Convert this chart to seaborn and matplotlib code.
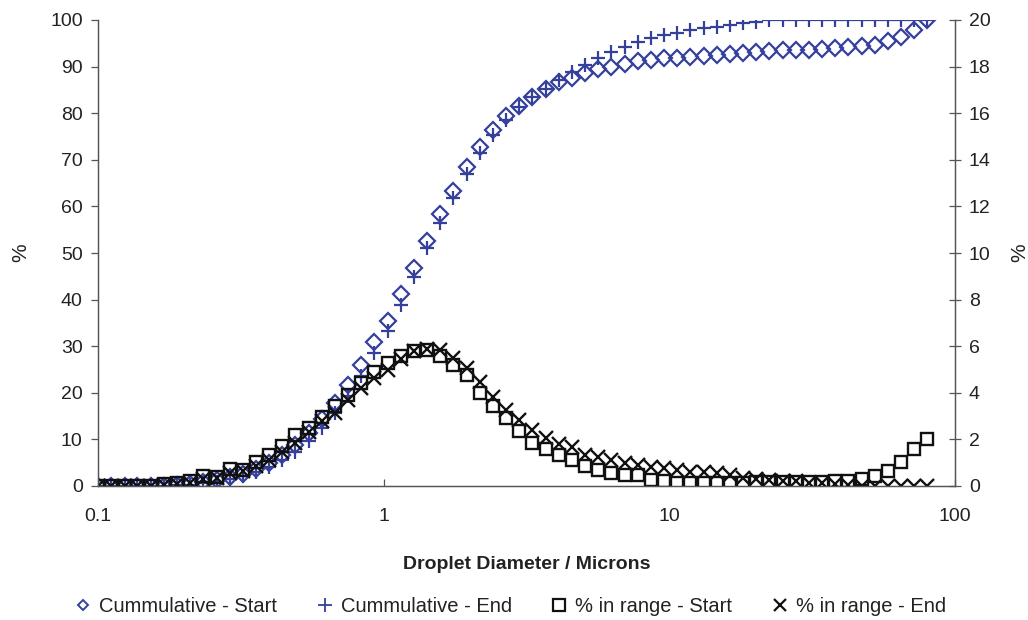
import matplotlib
matplotlib.use("Agg")
import matplotlib.pyplot as plt
import seaborn as sns
import pandas as pd
from matplotlib.lines import Line2D

# ---- data ----
size_um = [0.100, 0.111, 0.124, 0.137, 0.153, 0.170, 0.189, 0.210, 0.234, 0.260,
           0.289, 0.321, 0.357, 0.397, 0.442, 0.491, 0.546, 0.607, 0.675, 0.751,
           0.835, 0.928, 1.032, 1.148, 1.276, 1.419, 1.578, 1.755, 1.951, 2.170,
           2.412, 2.682, 2.983, 3.317, 3.688, 4.101, 4.560, 5.070, 5.638, 6.269,
           6.971, 7.751, 8.619, 9.584, 10.66, 11.85, 13.18, 14.65, 16.29, 18.12,
           20.14, 22.40, 24.91, 27.69, 30.80, 34.24, 38.08, 42.34, 47.08, 52.35,
           58.21, 64.73, 71.98, 80.04]

cum_start = [0, 0, 0, 0, 0, 0.1, 0.2, 0.4, 0.8, 1.2,
             1.9, 2.6, 3.6, 5.0, 6.7, 8.9, 11.4, 14.3, 17.8, 21.7,
             26.0, 30.8, 35.5, 41.1, 46.7, 52.6, 58.3, 63.3, 68.5, 72.7,
             76.3, 79.3, 81.5, 83.4, 85.1, 86.6, 87.6, 88.6, 89.4, 90.0,
             90.6, 91.1, 91.5, 91.8, 91.9, 92.1, 92.3, 92.5, 92.7, 92.9,
             93.1, 93.3, 93.5, 93.6, 93.6, 93.7, 93.9, 94.1, 94.4, 94.7,
             95.4, 96.4, 97.8, 100.0]

cum_end = [0, 0, 0, 0, 0, 0, 0.15, 0.3, 0.6, 0.95,
           1.5, 2.15, 3.0, 4.1, 5.6, 7.4, 9.7, 12.5, 15.6, 19.4,
           23.6, 28.5, 33.3, 38.8, 44.9, 51.0, 56.5, 61.7, 67.0, 71.4,
           75.3, 78.5, 81.3, 83.4, 85.2, 87.1, 88.9, 90.3, 91.9, 93.1,
           94.3, 95.3, 96.1, 96.8, 97.3, 97.8, 98.2, 98.6, 98.9, 99.3,
           99.6, 100, 100, 100, 100, 100, 100, 100, 100, 100,
           100, 100, 100, 100]

range_start = [0, 0, 0, 0, 0, 0.08, 0.15, 0.2, 0.42, 0.38,
               0.72, 0.68, 1.02, 1.32, 1.7, 2.2, 2.5, 2.95, 3.45, 3.9,
               4.4, 4.9, 5.3, 5.6, 5.8, 5.85, 5.6, 5.2, 4.75, 3.98,
               3.45, 2.9, 2.38, 1.85, 1.58, 1.33, 1.12, 0.85, 0.7, 0.56,
               0.47, 0.47, 0.26, 0.2, 0.15, 0.12, 0.14, 0.12, 0.15, 0.14,
               0.17, 0.16, 0.18, 0.17, 0.18, 0.17, 0.2, 0.22, 0.3, 0.45,
               0.65, 1.05, 1.6, 2.0]

range_end = [0, 0, 0, 0, 0, 0.05, 0.1, 0.15, 0.3, 0.35,
             0.55, 0.65, 0.85, 1.1, 1.45, 1.85, 2.3, 2.8, 3.15, 3.7,
             4.2, 4.65, 5.0, 5.45, 5.8, 5.9, 5.82, 5.5, 5.05, 4.48,
             3.8, 3.28, 2.85, 2.42, 2.05, 1.8, 1.68, 1.35, 1.26, 1.12,
             1.0, 0.88, 0.83, 0.78, 0.7, 0.62, 0.6, 0.55, 0.47, 0.35,
             0.3, 0.25, 0.2, 0.2, 0.15, 0.15, 0.1, 0.05, 0, 0,
             0, 0, 0, 0]

labels = ["Cummulative - Start", "Cummulative - End",
          "% in range - Start", "% in range - End"]

df = pd.DataFrame({"size": size_um, "cs": cum_start, "ce": cum_end,
                   "rs": range_start, "re": range_end})

sns.set_style("white")
plt.rcParams["font.family"] = ["Liberation Sans", "DejaVu Sans"]

BLUE = "#35409C"
DARK = "#111111"
fig = plt.figure(figsize=(10.28, 6.20), dpi=100)
ax = fig.add_axes([98 / 1028, 1 - 486 / 620, (955 - 98) / 1028, (486 - 20) / 620])
ax2 = ax.twinx()

sns.lineplot(data=df, x="size", y="cs", ax=ax, linestyle="", marker="D",
             markersize=8.2, markerfacecolor="none", markeredgecolor=BLUE,
             markeredgewidth=1.6, color=BLUE, estimator=None, legend=False)
sns.lineplot(data=df, x="size", y="ce", ax=ax, linestyle="", marker="+",
             markersize=10.5, markeredgewidth=1.6, markeredgecolor=BLUE,
             color=BLUE, estimator=None, legend=False)
sns.lineplot(data=df, x="size", y="rs", ax=ax2, linestyle="", marker="s",
             markersize=9.0, markerfacecolor="none", markeredgecolor=DARK,
             markeredgewidth=1.7, color=DARK, estimator=None, legend=False)
sns.lineplot(data=df, x="size", y="re", ax=ax2, linestyle="", marker="x",
             markersize=9.5, markeredgewidth=1.7, markeredgecolor=DARK,
             color=DARK, estimator=None, legend=False)

for a in (ax, ax2):
    a.set_xscale("log")
    a.set_xlim(0.1, 100)
    for sp in a.spines.values():
        sp.set_color("#555555")
        sp.set_linewidth(0.9)
    a.spines["top"].set_visible(False)

ax.set_ylim(0, 100)
ax.set_yticks(range(0, 101, 10))
ax2.set_ylim(0, 20)
ax2.set_yticks(range(0, 21, 2))
ax.set_xticks([0.1, 1, 10, 100])
ax.set_xticklabels(["0.1", "1", "10", "100"])
ax.xaxis.set_minor_locator(matplotlib.ticker.NullLocator())
ax2.xaxis.set_minor_locator(matplotlib.ticker.NullLocator())

ax.tick_params(axis="y", direction="out", length=5, width=0.9, color="#555555",
               labelsize=14, pad=6, left=True, labelcolor="#222222")
ax2.tick_params(axis="y", direction="inout", length=8, width=0.9, color="#555555",
                labelsize=14, pad=6, right=True, labelcolor="#222222")
ax.tick_params(axis="x", direction="in", length=5, width=0.9, color="#555555",
               labelsize=14, pad=16, bottom=True, labelcolor="#222222")

ax.set_xlabel("Droplet Diameter / Microns", fontsize=14, fontweight="bold",
              labelpad=22, color="#222222")
ax.set_ylabel("%", fontsize=15, labelpad=14, color="#222222")
ax2.set_ylabel("%", fontsize=15, labelpad=14, color="#222222")
ax.grid(False)
ax2.grid(False)

handles = [
    Line2D([], [], linestyle="", marker="D", markersize=5.5, markerfacecolor="none",
           markeredgecolor=BLUE, markeredgewidth=1.4),
    Line2D([], [], linestyle="", marker="+", markersize=10, markeredgecolor=BLUE,
           markeredgewidth=1.3),
    Line2D([], [], linestyle="", marker="s", markersize=8.5, markerfacecolor="none",
           markeredgecolor=DARK, markeredgewidth=1.6),
    Line2D([], [], linestyle="", marker="x", markersize=9, markeredgecolor=DARK,
           markeredgewidth=1.6),
]
fig.legend(handles, labels, loc="center", bbox_to_anchor=(510 / 1028, 1 - 607 / 620),
           ncol=4, frameon=False, fontsize=14.5, handlelength=0.9, handletextpad=0.35,
           columnspacing=1.9, labelcolor="#222222")

fig.savefig("out.png", dpi=100)
